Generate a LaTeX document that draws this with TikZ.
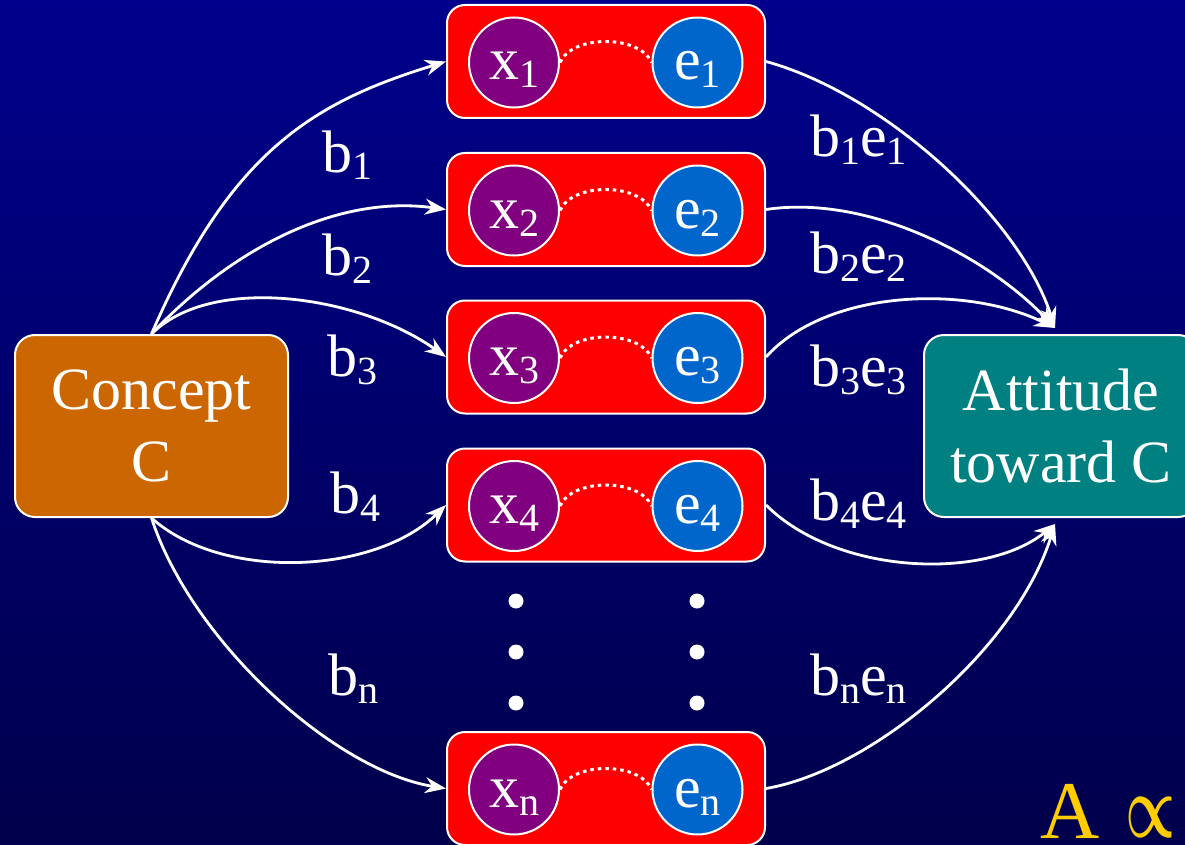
\documentclass[tikz,border=0pt]{standalone}
\usepackage{bm}
\usepackage{fontspec}
\setmainfont{Liberation Serif}
\usepackage{graphicx}
\usetikzlibrary{arrows.meta,calc}
\definecolor{bgtop}{RGB}{0,0,140}
\definecolor{bgbot}{RGB}{0,0,75}
\definecolor{conc}{HTML}{CC6600}
\definecolor{attc}{HTML}{008080}
\definecolor{xpurple}{HTML}{800080}
\definecolor{eblue}{HTML}{0066CC}
\definecolor{gold}{HTML}{FFCC00}
\newcommand\sbs[1]{\raisebox{-8pt}{\fontsize{40}{40}\selectfont #1}}
\begin{document}
\begin{tikzpicture}[x=1pt,y=-1pt,
  bigbox/.style={draw=white, line width=2pt, rounded corners=20pt, minimum width=273pt,
    minimum height=182pt, align=center, text=white, font=\fontsize{60}{72}\selectfont, inner sep=0pt},
  redbox/.style={draw=white, line width=2pt, fill=red, rounded corners=18pt,
    minimum width=318pt, minimum height=113pt, inner sep=0pt},
  xcirc/.style={circle, draw=white, line width=2pt, fill=xpurple, minimum size=90pt, inner sep=0pt,
    text=white, font=\fontsize{60}{60}\selectfont, text height=40pt, text depth=5pt},
  ecirc/.style={xcirc, fill=eblue},
  link/.style={white, line width=2.8pt, -{Stealth[length=21pt,width=16pt]}},
  dotlink/.style={white, line width=3pt, dash pattern=on 3.5pt off 4pt},
  lbl/.style={text=white, anchor=base west, inner sep=0pt, font=\fontsize{60}{60}\selectfont},
  vdot/.style={circle, fill=white, minimum size=15pt, inner sep=0pt}]
\useasboundingbox (0,0) rectangle (1185,845);
\fill[top color=bgtop, bottom color=bgbot] (0,0) rectangle (1185,845);

\node[bigbox, fill=conc] (concept) at (151.5,426) {Concept\\C};
\node[bigbox, fill=attc, minimum width=274pt] (att) at (1061,426) {Attitude\\toward C};
\coordinate (attT) at ($(att.north)+(-6,-6)$);
\coordinate (attB) at ($(att.south)+(-6,6)$);

\foreach \n/\y in {1/61.5,2/209.5,3/357,4/505,n/788.5}{
  \node[redbox] (r\n) at (606,\y) {};
  \node[xcirc] (x\n) at (514,\y+1) {x\sbs{\n}};
  \node[ecirc] (e\n) at (697.5,\y+1) {e\sbs{\n}};
  \draw[dotlink] (x\n.east) .. controls +(12,-28) and +(-12,-28) .. (e\n.west);
}

\foreach \yy in {601,652,703}{
  \node[vdot] (dl\yy) at (516,\yy) {};
  \node[vdot] (dr\yy) at (697,\yy) {};
}

% left arrows
\draw[link] (concept.north) .. controls +(80,-185) and +(-130,40) .. (r1.west);
\draw[link] (concept.north) .. controls +(80,-85) and +(-110,-15) .. (r2.west);
\draw[link] (concept.north) .. controls +(60,-60) and +(-87,-62) .. (r3.west);
\draw[link] (concept.south) .. controls +(70,63) and +(-72,70) .. (r4.west);
\draw[link] (concept.south) .. controls +(40,123) and +(-112,-18) .. (rn.west);

% right arrows
\draw[link] (r1.east) .. controls +(120,33) and +(-35,-109) .. (attT);
\draw[link] (r2.east) .. controls +(100,-15) and +(-70,-74) .. (attT);
\draw[link] (r3.east) .. controls +(60,-67) and +(-90,-44) .. (attT);
\draw[link] (r4.east) .. controls +(70,70) and +(-70,57) .. (attB);
\draw[link] (rn.east) .. controls +(105,-18) and +(-40,127) .. (attB);

% labels
\node[lbl] (lb1) at (322,172) {b\sbs{1}};
\node[lbl] (lb2) at (322,275) {b\sbs{2}};
\node[lbl] (lb3) at (327,376) {b\sbs{3}};
\node[lbl] (lb4) at (330,513) {b\sbs{4}};
\node[lbl] (lbn) at (328,695) {b\sbs{n}};
\node[lbl] (rb1) at (810,157) {b\sbs{1}e\sbs{1}};
\node[lbl] (rb2) at (810,273) {b\sbs{2}e\sbs{2}};
\node[lbl] (rb3) at (810,386) {b\sbs{3}e\sbs{3}};
\node[lbl] (rb4) at (810,520) {b\sbs{4}e\sbs{4}};
\node[lbl] (rbn) at (810,695) {b\sbs{n}e\sbs{n}};

\node[anchor=base west, text=gold, font=\fontsize{82}{82}\selectfont, inner sep=0pt] (A) at (1040,838) {A};
\node[anchor=south west, inner sep=0pt, text=gold] (prop) at (1125,838) {\resizebox{50pt}{40pt}{$\bm{\propto}$}};
\end{tikzpicture}
\end{document}
